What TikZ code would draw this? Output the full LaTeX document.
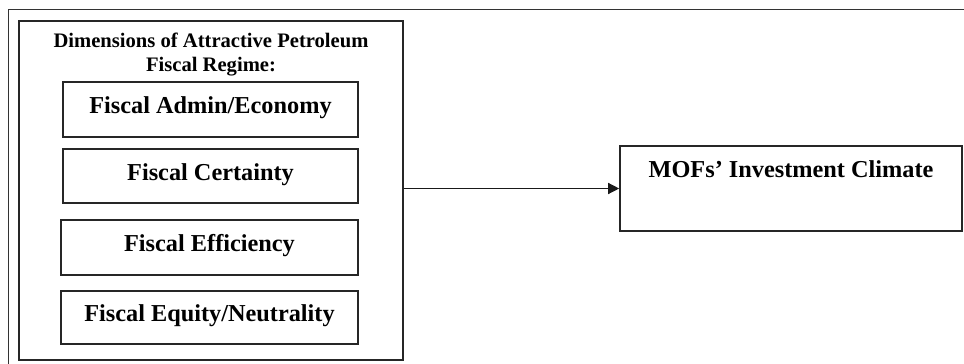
\documentclass[tikz,border=0pt]{standalone}
\usepackage{fontspec}
\setmainfont{Liberation Serif}
\usetikzlibrary{arrows.meta}
\begin{document}
\begin{tikzpicture}[x=1pt,y=1pt,
  frameline/.style={line width=1pt, draw=black!80},
  outerbox/.style={draw=black!85, line width=1.6pt, rectangle, inner sep=0pt},
  dimbox/.style={draw=black!85, line width=1.6pt, rectangle, inner sep=0pt,
    font=\fontsize{24.3}{28}\selectfont\bfseries, text height=12pt, text depth=4pt},
  titletext/.style={font=\fontsize{20.6}{24}\selectfont\bfseries, inner sep=0pt, anchor=base},
  conn/.style={line width=1.3pt, draw=black!90, -{Triangle[length=11pt,width=11pt]}}
]
\useasboundingbox (0,0) rectangle (964,-364);
% outer page frame
\coordinate (fbl) at (8,-365);
\coordinate (ftl) at (8,-9);
\coordinate (ftr) at (965,-9);
\draw[frameline] (fbl) -- (ftl) -- (ftr);
% container box
\node[outerbox, minimum width=384pt, minimum height=339pt] (inner) at (211,-190.5) {};
\node[titletext] (t1) at (211,-47) {Dimensions of Attractive Petroleum};
\node[titletext] (t2) at (211,-71) {Fiscal Regime:};
% dimension boxes
\node[dimbox, minimum width=295pt, minimum height=55pt] (b1) at (210.5,-109.5) {Fiscal Admin/Economy};
\node[dimbox, minimum width=295pt, minimum height=54pt] (b2) at (210.5,-176) {Fiscal Certainty};
\node[dimbox, minimum width=297pt, minimum height=55pt] (b3) at (209.5,-247.5) {Fiscal Efficiency};
\node[dimbox, minimum width=297pt, minimum height=53pt] (b4) at (209.5,-317.5) {Fiscal Equity/Neutrality};
% outcome box
\node[dimbox, minimum width=342pt, minimum height=85pt, text height=16pt, text depth=39pt] (mofs) at (791,-188.5) {MOFs’ Investment Climate};
% connector
\draw[conn] (mofs.west -| inner.east) -- (mofs.west);
\end{tikzpicture}
\end{document}
